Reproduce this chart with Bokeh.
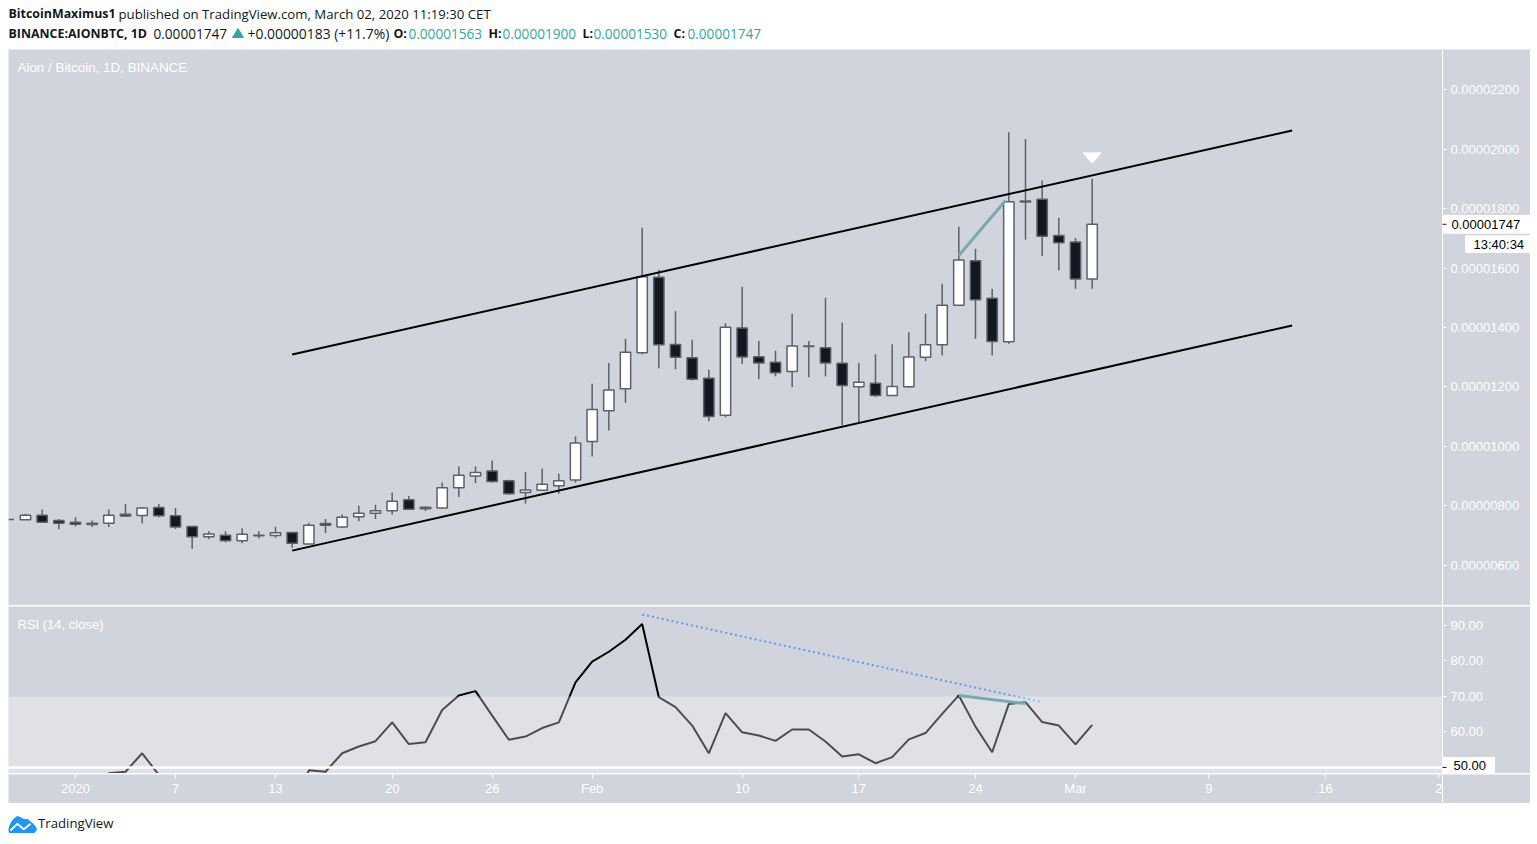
from bokeh.embed import file_html
from bokeh.layouts import column
from bokeh.models import ColumnDataSource, FixedTicker, Label, Range1d
from bokeh.plotting import figure
from bokeh.resources import INLINE

# days since 1 Jan 2020, prices in satoshi (1e-8 BTC)
days = list(range(-4, 62))
opens = [755, 754, 769, 751, 745, 742, 742, 772, 768, 795, 767, 731, 697, 702, 683, 700, 701, 711, 672, 741,
         729, 764, 776, 784, 821, 796, 793, 861, 901, 918, 885, 845, 853, 868, 887, 1017, 1120, 1194, 1315, 1569,
         1343, 1298, 1229, 1105, 1398, 1302, 1283, 1252, 1338, 1332, 1280, 1201, 1213, 1171, 1201, 1300, 1342, 1475,
         1624, 1498, 1352, 1825, 1831, 1709, 1687, 1563]
highs = [755, 774, 788, 756, 762, 751, 788, 807, 797, 807, 793, 731, 715, 715, 725, 715, 730, 711, 744, 756,
         771, 801, 804, 845, 834, 799, 879, 933, 933, 953, 888, 914, 926, 908, 1034, 1211, 1281, 1362, 1735, 1594,
         1455, 1359, 1258, 1414, 1537, 1355, 1322, 1446, 1355, 1500, 1417, 1281, 1310, 1344, 1384, 1446, 1547, 1739,
         1665, 1530, 2056, 2034, 1894, 1769, 1701, 1900]
lows = [755, 754, 745, 722, 731, 729, 729, 764, 741, 762, 723, 656, 688, 678, 675, 691, 693, 660, 672, 709,
        727, 749, 756, 771, 787, 783, 791, 830, 877, 878, 838, 808, 852, 841, 878, 966, 1054, 1147, 1310, 1263,
        1259, 1222, 1085, 1098, 1277, 1226, 1236, 1199, 1233, 1236, 1071, 1082, 1166, 1171, 1198, 1287, 1306, 1475,
        1362, 1306, 1345, 1695, 1640, 1592, 1530, 1530]
closes = [755, 769, 745, 742, 739, 738, 769, 766, 793, 767, 729, 697, 706, 683, 705, 702, 710, 675, 735, 735,
          762, 776, 784, 816, 789, 791, 861, 903, 913, 882, 841, 854, 873, 885, 1012, 1124, 1190, 1317, 1571, 1342,
          1300, 1226, 1101, 1401, 1301, 1281, 1248, 1338, 1336, 1281, 1205, 1216, 1171, 1202, 1301, 1342, 1475, 1627,
          1493, 1353, 1823, 1822, 1707, 1685, 1563, 1747]

# values under 48 are cut off by the pane, so those are rough guesses
rsi = [44, 43, 44, 42, 41, 40, 48.4, 48.8, 54.0, 47.9, 45, 42, 41, 41, 42, 41, 40, 39, 49.2, 48.8,
       54.0, 55.9, 57.4, 62.7, 56.6, 57.1, 66.2, 70.3, 71.5, 64.6, 57.8, 58.7, 61.1, 62.7, 74.0, 79.8, 82.6, 86.0, 90.4, 69.8,
       67.0, 61.8, 54.0, 65.3, 59.9, 59.0, 57.5, 60.7, 60.7, 57.3, 53.1, 53.7, 51.2, 52.9, 57.9, 59.7, 65.1, 70.3,
       61.5, 54.3, 67.9, 68.4, 62.8, 61.8, 56.5, 62.0]

price_ticks = [600, 800, 1000, 1200, 1400, 1600, 1800, 2000, 2200]
rsi_ticks = [60, 70, 80, 90]
time_ticks = [0, 6, 12, 19, 25, 31, 40, 47, 54, 60, 68, 75, 81.8]
time_labels = ["2020", "7", "13", "20", "26", "Feb", "10", "17", "24", "Mar", "9", "16", "2"]

channel_x = [13, 73]
channel_top = [1309, 2062]
channel_bottom = [650, 1407]
teal_price_x = [53, 55.8]
teal_price_y = [1642, 1827]
arrow_x = [60.47, 61.53, 61]
arrow_y = [1987, 1987, 1952]
rsi_trend_x = [34, 58]
rsi_trend_y = [93.1, 68.4]
teal_rsi_x = [53, 57]
teal_rsi_y = [70.3, 68.0]

logo_x = [0, 1.3, 4.7, 8.7, 12, 15.3, 19.3, 22.7, 27, 28, 26, 0.7]
logo_y = [8, 12, 18, 21, 20, 18, 18, 15, 11, 8, 5, 5]
logo_line_x = [2, 8.7, 15.3, 22]
logo_line_y = [7, 13.7, 8.3, 13.7]

BG = "#d1d4dc"
UP = "#ffffff"
DOWN = "#131722"
EDGE = "#5d606b"
TEAL = "#7aa8b3"
GREEN = "#35a79c"
FONT = "Liberation Sans"
HEAD = "Open Sans"
X_START = -4.02
X_END = 87.3
AXIS_AT = 82.02  # the price scale sits at this day

x_range = Range1d(X_START, X_END)


def pane(height, y_range):
    p = figure(width=1522, height=height, x_range=x_range, y_range=y_range, y_axis_location="right",
               output_backend="svg", toolbar_location=None, background_fill_color=BG, border_fill_color=BG,
               min_border=0)
    p.outline_line_color = None
    p.grid.visible = False
    p.xaxis.visible = False
    ax = p.yaxis[0]
    ax.fixed_location = AXIS_AT
    ax.axis_line_color = "white"
    ax.major_tick_line_color = "white"
    ax.major_tick_in = 0
    ax.major_tick_out = 4
    ax.minor_tick_line_color = None
    ax.major_label_text_color = "white"
    ax.major_label_text_font = FONT
    ax.major_label_text_font_size = "13px"
    ax.major_label_standoff = 4
    return p


def tag(p, text, x, y, left, right, half, text_y=None):
    # white box in data units, text on top of it
    p.quad(left=[left], right=[right], top=[y + half], bottom=[y - half], color="white", level="annotation")
    p.add_layout(Label(x=x, y=y if text_y is None else text_y, x_units="screen", y_units="data", text=text,
                       text_color="black", text_font=FONT, text_font_size="13px", text_baseline="middle",
                       level="overlay"))


# price pane
price = pane(556, Range1d(465.5, 2334.5))
price.yaxis.ticker = FixedTicker(ticks=price_ticks)
price.yaxis.major_label_overrides = {t: f"{t / 1e8:.8f}" for t in price_ticks}

up_src = ColumnDataSource(dict(
    x=[d for d, o, c in zip(days, opens, closes) if c >= o],
    top=[c for o, c in zip(opens, closes) if c >= o],
    bottom=[o for o, c in zip(opens, closes) if c >= o]))
down_src = ColumnDataSource(dict(
    x=[d for d, o, c in zip(days, opens, closes) if c < o],
    top=[o for o, c in zip(opens, closes) if c < o],
    bottom=[c for o, c in zip(opens, closes) if c < o]))
price.segment(days, highs, days, lows, color=EDGE, line_width=1.5)
price.vbar(x="x", top="top", bottom="bottom", width=0.62, source=up_src, fill_color=UP, line_color=EDGE, line_width=1.5)
price.vbar(x="x", top="top", bottom="bottom", width=0.62, source=down_src, fill_color=DOWN, line_color=EDGE, line_width=1.5)

price.line(channel_x, channel_top, color="black", line_width=2)
price.line(channel_x, channel_bottom, color="black", line_width=2)
price.line(teal_price_x, teal_price_y, color=TEAL, line_width=3)
price.patch(arrow_x, arrow_y, color="white")

price.add_layout(Label(x=9, y=538, x_units="screen", y_units="screen", text="Aion / Bitcoin, 1D, BINANCE",
                       text_color="white", text_font=FONT, text_font_size="13.4px", text_baseline="middle"))
tag(price, f"{closes[-1] / 1e8:.8f}", 1443, closes[-1], AXIS_AT + 0.06, X_END, 30)
tag(price, "13:40:34", 1465, 1680, 83.4, X_END, 28)
price.segment([AXIS_AT], [closes[-1]], [AXIS_AT + 0.24], [closes[-1]], color="#131722", level="overlay")

# rsi pane
rsi_pane = pane(167, Range1d(48.3, 95.35))
rsi_pane.yaxis.ticker = FixedTicker(ticks=rsi_ticks)
rsi_pane.yaxis.major_label_overrides = {t: f"{t:.2f}" for t in rsi_ticks}
rsi_pane.line(days, rsi, color="black", line_width=2)
rsi_pane.line(rsi_trend_x, rsi_trend_y, color="#5d9cf5", line_width=2, line_dash=[2, 3])
rsi_pane.quad(left=[X_START], right=[AXIS_AT], top=[70], bottom=[48.3], fill_color="white", fill_alpha=0.3,
              line_color=None, level="overlay")
rsi_pane.line(teal_rsi_x, teal_rsi_y, color=TEAL, line_width=3, level="overlay")
rsi_pane.line([X_START, AXIS_AT], [50, 50], color="white", line_width=2.5, level="overlay")
rsi_pane.add_layout(Label(x=9, y=149, x_units="screen", y_units="screen", text="RSI (14, close)",
                          text_color="white", text_font=FONT, text_font_size="13px", text_baseline="middle"))
tag(rsi_pane, "50.00", 1445, 50, AXIS_AT + 0.06, 85.14, 2.8, text_y=50.6)
rsi_pane.segment([AXIS_AT], [50], [AXIS_AT + 0.24], [50], color="#131722", level="overlay")

# time axis, pinned to the top of its own strip so the scale line runs down beside it
time = pane(29, Range1d(0, 1))
time.yaxis.major_tick_line_color = None
time.yaxis.major_label_text_font_size = "0px"
time.yaxis.ticker = FixedTicker(ticks=[])
time.xaxis.visible = True
time.xaxis.fixed_location = 1
time.xaxis.ticker = FixedTicker(ticks=time_ticks)
time.xaxis.major_label_overrides = dict(zip(time_ticks, time_labels))
time.xaxis.axis_line_color = None
time.xaxis.major_tick_line_color = "white"
time.xaxis.major_tick_in = 0
time.xaxis.major_tick_out = 4
time.xaxis.minor_tick_line_color = None
time.xaxis.major_label_text_color = "white"
time.xaxis.major_label_text_font = FONT
time.xaxis.major_label_text_font_size = "13px"
time.xaxis.major_label_standoff = 2


def bare(height):
    p = figure(width=1522, height=height, x_range=Range1d(0, 1522), y_range=Range1d(0, height),
               output_backend="svg", toolbar_location=None, min_border=0, x_axis_location=None, y_axis_location=None)
    p.outline_line_color = None
    p.grid.visible = False
    return p


def head(x, y, text, color="#131722", bold=False, size="13.6px"):
    header.add_layout(Label(x=x, y=y, text=text, text_color=color, text_font=HEAD,
                            text_font_size="12.4px" if bold else size,
                            text_font_style="bold" if bold else "normal", text_baseline="middle"))


# header line, one label per colour run
header = bare(48)
head(0, 35, "BitcoinMaximus1", bold=True)
head(110, 35, "published on TradingView.com, March 02, 2020 11:19:30 CET", size="13.2px")
head(0, 15, "BINANCE:AIONBTC, 1D", bold=True)
head(145, 15, "0.00001747")
header.patch([224, 235, 229.5], [11, 11, 20], color=GREEN)
head(239, 15, "+0.00000183 (+11.7%)", size="13.9px")
head(385, 15, "O:", bold=True)
head(400, 15, "0.00001563", color=GREEN)
head(480, 15, "H:", bold=True)
head(494, 15, "0.00001900", color=GREEN)
head(574, 15, "L:", bold=True)
head(585, 15, "0.00001530", color=GREEN)
head(665, 15, "C:", bold=True)
head(679, 15, "0.00001747", color=GREEN)

# footer with the cloud logo
footer = bare(33)
footer.patch(logo_x, logo_y, color="#2196f3")
footer.line(logo_line_x, logo_line_y, color="white", line_width=1.8)
footer.add_layout(Label(x=29.5, y=15, text="TradingView", text_color="#131722", text_font=HEAD,
                        text_font_size="13.2px", text_baseline="middle"))

page = column(header, price, rsi_pane, time, footer, spacing=1, margin=(0, 0, 0, 8))
open("out.html", "w").write(file_html(page, INLINE))
